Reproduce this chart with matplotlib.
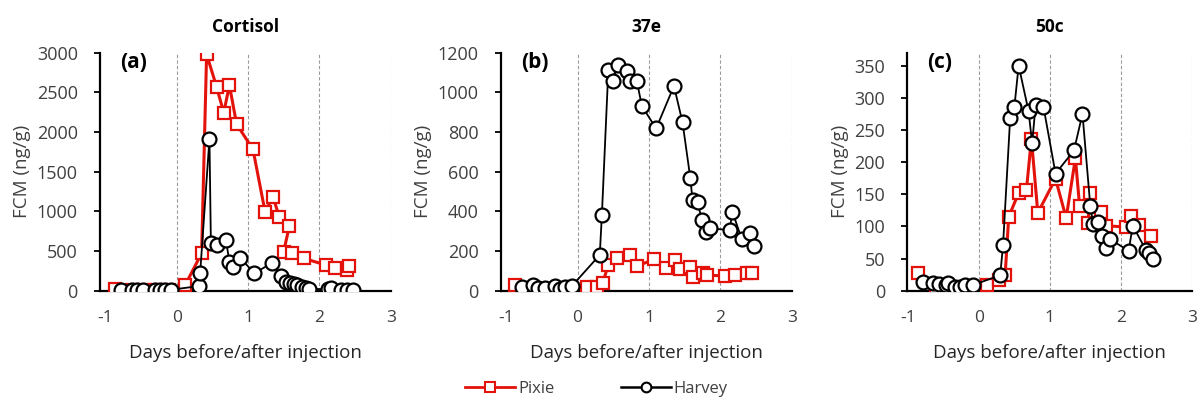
import matplotlib.pyplot as plt
from matplotlib.lines import Line2D

plt.rcParams["font.family"] = ["Open Sans", "DejaVu Sans"]
plt.rcParams["axes.unicode_minus"] = False

RED = "#e3120b"
TXT = "#404040"

# panel (a) cortisol
a_pixie_x = [-0.86, -0.62, -0.45, -0.28, -0.10, 0.12, 0.35, 0.42, 0.56, 0.66, 0.74, 0.84, 1.07, 1.24,
             1.35, 1.44, 1.58, 1.50, 1.61, 1.78, 2.09, 2.22, 2.39, 2.42]
a_pixie_y = [20, 5, 5, 5, 5, 72, 471, 2980, 2570, 2244, 2590, 2100, 1782, 992,
             1185, 925, 816, 492, 471, 408, 324, 290, 261, 315]
a_harvey_x = [-0.78, -0.63, -0.56, -0.47, -0.30, -0.23, -0.16, -0.08, 0.32, 0.33, 0.46, 0.48, 0.56,
              0.69, 0.74, 0.79, 0.89, 1.09, 1.34, 1.46, 1.53, 1.59, 1.64, 1.69, 1.75, 1.81, 1.86,
              2.12, 2.16, 2.31, 2.39, 2.47]
a_harvey_y = [10, 10, 10, 10, 10, 10, 10, 12, 59, 227, 1915, 605, 576, 640, 366, 295, 416, 219, 353,
              185, 108, 92, 80, 68, 51, 34, 25, 17, 34, 8, 8, 8]

# panel (b) 37e
b_pixie_x = [-0.88, -0.62, -0.50, -0.30, -0.15, 0.13, 0.27, 0.35, 0.43, 0.55, 0.73, 0.83, 1.07, 1.24,
             1.36, 1.43, 1.57, 1.61, 1.76, 1.81, 2.06, 2.20, 2.37, 2.44]
b_pixie_y = [29, 5, 5, 5, 5, 17, 17, 37, 130, 163, 180, 124, 158, 113,
             155, 108, 121, 71, 88, 79, 74, 79, 88, 91]
b_harvey_x = [-0.78, -0.63, -0.56, -0.46, -0.32, -0.25, -0.18, -0.08, 0.31, 0.34, 0.43, 0.49, 0.57,
              0.69, 0.73, 0.83, 0.90, 1.10, 1.35, 1.47, 1.58, 1.61, 1.68, 1.74, 1.80, 1.86, 2.13,
              2.17, 2.30, 2.41, 2.47]
b_harvey_y = [17, 29, 12, 12, 24, 10, 17, 24, 180, 382, 1113, 1057, 1138, 1108, 1057, 1057, 931, 818,
              1032, 849, 566, 457, 449, 356, 297, 314, 306, 398, 259, 289, 225]

# panel (c) 50c
c_pixie_x = [-0.86, -0.60, -0.45, -0.30, -0.15, 0.11, 0.28, 0.37, 0.42, 0.56, 0.67, 0.74, 0.83, 1.08,
             1.23, 1.36, 1.42, 1.56, 1.54, 1.72, 1.79, 2.07, 2.14, 2.25, 2.42]
c_pixie_y = [28, 3, 3, 3, 3, 9, 16, 25, 115, 152, 157, 236, 121, 174,
             113, 206, 131, 152, 105, 123, 101, 99, 116, 102, 85]
c_harvey_x = [-0.79, -0.65, -0.57, -0.46, -0.43, -0.34, -0.26, -0.20, -0.08, 0.30, 0.34, 0.44, 0.50,
              0.56, 0.70, 0.75, 0.80, 0.91, 1.08, 1.34, 1.46, 1.57, 1.61, 1.68, 1.73, 1.79, 1.85,
              2.11, 2.17, 2.35, 2.40, 2.46]
c_harvey_y = [14, 12, 11, 9, 12, 6, 5, 9, 9, 24, 71, 268, 286, 350, 279, 229, 289, 286, 182, 218, 275,
              132, 104, 107, 85, 66, 80, 62, 101, 64, 58, 50]

panels = [
    ("Cortisol", "(a)", a_pixie_x, a_pixie_y, a_harvey_x, a_harvey_y, 3000, 500, -1.074),
    ("37e", "(b)", b_pixie_x, b_pixie_y, b_harvey_x, b_harvey_y, 1200, 200, -1.078),
    ("50c", "(c)", c_pixie_x, c_pixie_y, c_harvey_x, c_harvey_y, 370, 50, -1.01),
]
lefts = [100, 500.7, 907.3]
rights = [390.7, 791.7, 1191.7]

fig = plt.figure(figsize=(12, 4.01), dpi=100)

for (title, tag, px, py, hx, hy, ymax, ystep, xmin), l, r in zip(panels, lefts, rights):
    ax = fig.add_axes([l / 1200, 1 - 290.7 / 401, (r - l) / 1200, 238 / 401])
    ax.plot(px, py, color=RED, lw=2.2, marker="s", markersize=9, markerfacecolor="white",
            markeredgecolor=RED, markeredgewidth=1.6, zorder=3)
    ax.plot(hx, hy, color="black", lw=1.3, marker="o", markersize=10, markerfacecolor="white",
            markeredgecolor="black", markeredgewidth=1.6, zorder=4)
    ax.set_xlim(xmin, 3)
    ax.set_ylim(0, ymax)
    ax.set_xticks([-1, 0, 1, 2, 3])
    ax.set_yticks(range(0, ymax + 1, ystep))
    for xv in [0, 1, 2, 3]:
        ax.axvline(xv, color="#9a9a9a", lw=0.8, ls=(0, (3, 2)), zorder=1)
    for s in ["top", "right"]:
        ax.spines[s].set_visible(False)
    for s in ["left", "bottom"]:
        ax.spines[s].set_linewidth(1.6)
    ax.tick_params(axis="x", length=0, pad=14, labelsize=12.5, labelcolor=TXT)
    ax.tick_params(axis="y", length=4, width=1.3, direction="out", pad=12, labelsize=13, labelcolor=TXT)
    ax.set_xlabel("Days before/after injection", fontsize=13.5, color="#262626", labelpad=13)
    ax.set_ylabel("FCM (ng/g)", fontsize=13.5, color=TXT, labelpad=4)
    ax.set_title(title, fontsize=12.5, fontweight="bold", color="black", pad=15)
    ax.text(0.07, 0.96, tag, transform=ax.transAxes, fontsize=15, fontweight="bold",
            ha="left", va="center", color="black")
    ax.patch.set_alpha(0)

handles = [
    Line2D([0], [0], color=RED, lw=2, marker="s", markersize=7, markerfacecolor="white",
           markeredgecolor=RED, markeredgewidth=1.5, label="Pixie"),
    Line2D([0], [0], color="black", lw=1.8, marker="o", markersize=7, markerfacecolor="white",
           markeredgecolor="black", markeredgewidth=1.5, label="Harvey"),
]
leg = fig.legend(handles=handles, loc="center", bbox_to_anchor=(0.497, 0.03), ncol=2, frameon=False,
                 fontsize=12, handlelength=3.0, columnspacing=4.0, handletextpad=0.15)
for t in leg.get_texts():
    t.set_color(TXT)

fig.savefig("out.png", dpi=100)
